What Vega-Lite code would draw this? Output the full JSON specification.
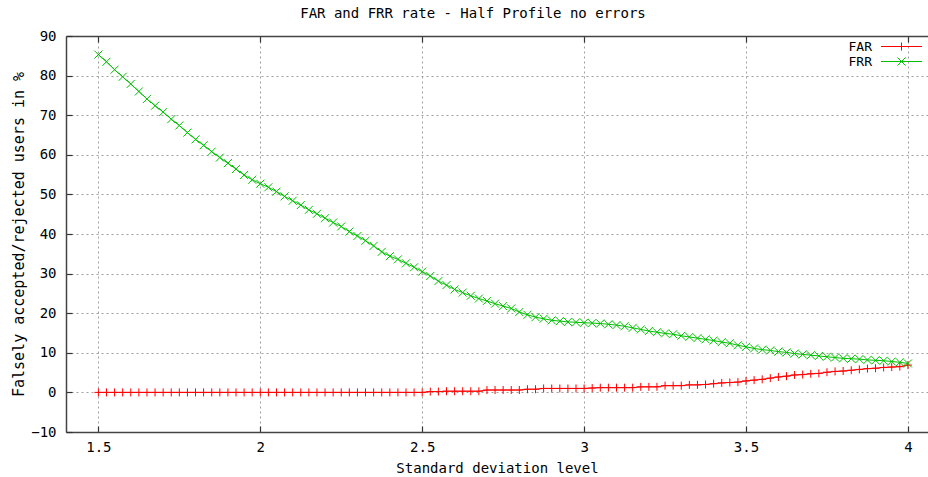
{
  "$schema": "https://vega.github.io/schema/vega-lite/v6.json",
  "autosize": "none",
  "width": 862,
  "height": 396,
  "padding": {"left": 66, "top": 36, "right": 0, "bottom": 45},
  "background": "white",
  "view": {"stroke": null},
  "title": {"text": "FAR and FRR rate - Half Profile no errors", "font": "DejaVu Sans Mono", "fontSize": 14, "fontWeight": "normal", "color": "#000", "offset": 8, "dx": -24},
  "config": {
    "axis": {"labelFont": "DejaVu Sans Mono", "labelFontSize": 14, "labelColor": "#000", "titleFont": "DejaVu Sans Mono", "titleFontSize": 14, "titleFontWeight": "normal", "titleColor": "#000", "gridColor": "#a0a0a0", "gridDash": [2, 3], "gridWidth": 1, "domainColor": "#444", "domainWidth": 1.5, "tickColor": "#333", "tickSize": -6, "tickWidth": 1.2}
  },
  "data": {"values": [
    {"x": 1.5, "FAR": 0, "FRR": 85.3}, {"x": 1.525, "FAR": 0, "FRR": 83.5}, {"x": 1.55, "FAR": 0, "FRR": 81.5}, {"x": 1.575, "FAR": 0, "FRR": 79.7},
    {"x": 1.6, "FAR": 0, "FRR": 77.9}, {"x": 1.625, "FAR": 0, "FRR": 76.0}, {"x": 1.65, "FAR": 0, "FRR": 74.1}, {"x": 1.675, "FAR": 0, "FRR": 72.4},
    {"x": 1.7, "FAR": 0, "FRR": 70.8}, {"x": 1.725, "FAR": 0, "FRR": 69.0}, {"x": 1.75, "FAR": 0, "FRR": 67.4}, {"x": 1.775, "FAR": 0, "FRR": 65.6},
    {"x": 1.8, "FAR": 0, "FRR": 63.9}, {"x": 1.825, "FAR": 0, "FRR": 62.4}, {"x": 1.85, "FAR": 0, "FRR": 60.8}, {"x": 1.875, "FAR": 0, "FRR": 59.3},
    {"x": 1.9, "FAR": 0, "FRR": 57.9}, {"x": 1.925, "FAR": 0, "FRR": 56.4}, {"x": 1.95, "FAR": 0, "FRR": 54.9}, {"x": 1.975, "FAR": 0, "FRR": 53.7},
    {"x": 2.0, "FAR": 0, "FRR": 52.7}, {"x": 2.025, "FAR": 0, "FRR": 51.8}, {"x": 2.05, "FAR": 0, "FRR": 50.7}, {"x": 2.075, "FAR": 0, "FRR": 49.5},
    {"x": 2.1, "FAR": 0, "FRR": 48.4}, {"x": 2.125, "FAR": 0, "FRR": 47.3}, {"x": 2.15, "FAR": 0, "FRR": 46.1}, {"x": 2.175, "FAR": 0, "FRR": 45.1},
    {"x": 2.2, "FAR": 0, "FRR": 44.0}, {"x": 2.225, "FAR": 0, "FRR": 42.9}, {"x": 2.25, "FAR": 0, "FRR": 41.9}, {"x": 2.275, "FAR": 0, "FRR": 40.6},
    {"x": 2.3, "FAR": 0, "FRR": 39.5}, {"x": 2.325, "FAR": 0, "FRR": 38.3}, {"x": 2.35, "FAR": 0, "FRR": 37.0}, {"x": 2.375, "FAR": 0, "FRR": 35.5},
    {"x": 2.4, "FAR": 0, "FRR": 34.4}, {"x": 2.425, "FAR": 0, "FRR": 33.6}, {"x": 2.45, "FAR": 0, "FRR": 32.6}, {"x": 2.475, "FAR": 0, "FRR": 31.6},
    {"x": 2.5, "FAR": 0, "FRR": 30.5}, {"x": 2.525, "FAR": 0.2, "FRR": 29.4}, {"x": 2.55, "FAR": 0.2, "FRR": 28.1}, {"x": 2.575, "FAR": 0.3, "FRR": 27.1},
    {"x": 2.6, "FAR": 0.3, "FRR": 26.0}, {"x": 2.625, "FAR": 0.3, "FRR": 25.2}, {"x": 2.65, "FAR": 0.3, "FRR": 24.4}, {"x": 2.675, "FAR": 0.3, "FRR": 23.7},
    {"x": 2.7, "FAR": 0.6, "FRR": 23.1}, {"x": 2.725, "FAR": 0.6, "FRR": 22.4}, {"x": 2.75, "FAR": 0.6, "FRR": 21.8}, {"x": 2.775, "FAR": 0.6, "FRR": 21.2},
    {"x": 2.8, "FAR": 0.6, "FRR": 20.3}, {"x": 2.825, "FAR": 0.8, "FRR": 19.6}, {"x": 2.85, "FAR": 0.8, "FRR": 19.0}, {"x": 2.875, "FAR": 1.0, "FRR": 18.6},
    {"x": 2.9, "FAR": 1.0, "FRR": 18.2}, {"x": 2.925, "FAR": 1.0, "FRR": 18.0}, {"x": 2.95, "FAR": 1.0, "FRR": 17.8}, {"x": 2.975, "FAR": 1.0, "FRR": 17.7},
    {"x": 3.0, "FAR": 1.0, "FRR": 17.6}, {"x": 3.025, "FAR": 1.1, "FRR": 17.5}, {"x": 3.05, "FAR": 1.2, "FRR": 17.4}, {"x": 3.075, "FAR": 1.2, "FRR": 17.2},
    {"x": 3.1, "FAR": 1.2, "FRR": 17.0}, {"x": 3.125, "FAR": 1.2, "FRR": 16.7}, {"x": 3.15, "FAR": 1.2, "FRR": 16.3}, {"x": 3.175, "FAR": 1.4, "FRR": 15.9},
    {"x": 3.2, "FAR": 1.4, "FRR": 15.5}, {"x": 3.225, "FAR": 1.4, "FRR": 15.2}, {"x": 3.25, "FAR": 1.7, "FRR": 14.9}, {"x": 3.275, "FAR": 1.7, "FRR": 14.7},
    {"x": 3.3, "FAR": 1.7, "FRR": 14.3}, {"x": 3.325, "FAR": 1.9, "FRR": 14.0}, {"x": 3.35, "FAR": 1.9, "FRR": 13.7}, {"x": 3.375, "FAR": 2.0, "FRR": 13.4},
    {"x": 3.4, "FAR": 2.2, "FRR": 13.1}, {"x": 3.425, "FAR": 2.4, "FRR": 12.7}, {"x": 3.45, "FAR": 2.5, "FRR": 12.4}, {"x": 3.475, "FAR": 2.6, "FRR": 11.9},
    {"x": 3.5, "FAR": 2.9, "FRR": 11.5}, {"x": 3.525, "FAR": 3.1, "FRR": 11.1}, {"x": 3.55, "FAR": 3.3, "FRR": 10.8}, {"x": 3.575, "FAR": 3.6, "FRR": 10.6},
    {"x": 3.6, "FAR": 3.9, "FRR": 10.3}, {"x": 3.625, "FAR": 4.1, "FRR": 10.1}, {"x": 3.65, "FAR": 4.4, "FRR": 9.8}, {"x": 3.675, "FAR": 4.5, "FRR": 9.6},
    {"x": 3.7, "FAR": 4.7, "FRR": 9.4}, {"x": 3.725, "FAR": 4.8, "FRR": 9.2}, {"x": 3.75, "FAR": 5.1, "FRR": 9.0}, {"x": 3.775, "FAR": 5.3, "FRR": 8.8},
    {"x": 3.8, "FAR": 5.4, "FRR": 8.6}, {"x": 3.825, "FAR": 5.6, "FRR": 8.5}, {"x": 3.85, "FAR": 5.8, "FRR": 8.4}, {"x": 3.875, "FAR": 6.0, "FRR": 8.2},
    {"x": 3.9, "FAR": 6.1, "FRR": 8.1}, {"x": 3.925, "FAR": 6.3, "FRR": 8.0}, {"x": 3.95, "FAR": 6.4, "FRR": 7.8}, {"x": 3.975, "FAR": 6.5, "FRR": 7.6},
    {"x": 4.0, "FAR": 6.9, "FRR": 7.3}
  ]},
  "transform": [{"fold": ["FAR", "FRR"], "as": ["series", "value"]}],
  "encoding": {
    "y": {"field": "value", "type": "quantitative", "scale": {"domain": [-10, 90], "nice": false},
      "axis": {"values": [-10, 0, 10, 20, 30, 40, 50, 60, 70, 80, 90], "title": "Falsely accepted/rejected users in %", "titleFontSize": 15, "titlePadding": 4, "labelPadding": 16, "grid": true, "domain": true}},
    "color": {"field": "series", "type": "nominal", "scale": {"domain": ["FAR", "FRR"], "range": ["#ff0000", "#00c000"]},
      "legend": {"title": null, "orient": "top-right", "offset": 4, "labelFont": "DejaVu Sans Mono", "labelFontSize": 13, "labelColor": "#000", "labelAlign": "right", "labelOffset": -36, "symbolSize": 100, "symbolStrokeWidth": 1, "rowPadding": 1, "padding": 0, "symbolType": "M-1,0H1",
        "encode": {"symbols": {"update": {"shape": {"signal": "datum.value === 'FAR' ? 'M-4.1,0H4.1M0,-0.8V0.8' : 'M-4.1,0H4.1M-0.8,-0.8L0.8,0.8M-0.8,0.8L0.8,-0.8'"}, "size": {"value": 100}, "stroke": {"signal": "scale('color', datum.value)"}, "fill": {"value": "transparent"}, "strokeWidth": {"value": 1}, "opacity": {"value": 1}}}}}
    }
  },
  "layer": [
    {
      "mark": {"type": "line", "strokeWidth": 1},
      "encoding": {
        "x": {"field": "x", "type": "quantitative", "scale": {"domain": [1.4, 4.062], "nice": false, "zero": false},
          "axis": {"orient": "bottom", "values": [1.5, 2, 2.5, 3, 3.5, 4], "format": "~g", "title": "Standard deviation level", "titlePadding": 7, "labelPadding": 14, "grid": true, "domain": true}}
      }
    },
    {
      "transform": [{"filter": "datum.series === 'FAR'"}],
      "mark": {"type": "point", "filled": false, "strokeWidth": 1, "size": 64, "opacity": 1, "shape": "M-1,0H1M0,-1V1"},
      "encoding": {
        "x": {"field": "x", "type": "quantitative", "scale": {"domain": [1.4, 4.062], "nice": false, "zero": false},
          "axis": {"orient": "top", "values": [1.5, 2, 2.5, 3, 3.5, 4], "title": null, "labels": false, "grid": false, "domain": true}}
      }
    },
    {
      "transform": [{"filter": "datum.series === 'FRR'"}],
      "mark": {"type": "point", "filled": false, "strokeWidth": 1, "size": 64, "opacity": 1, "shape": "M-1,-1L1,1M-1,1L1,-1"},
      "encoding": {
        "x": {"field": "x", "type": "quantitative", "scale": {"domain": [1.4, 4.062], "nice": false, "zero": false}, "axis": null}
      }
    }
  ],
  "resolve": {"axis": {"x": "independent"}}
}
